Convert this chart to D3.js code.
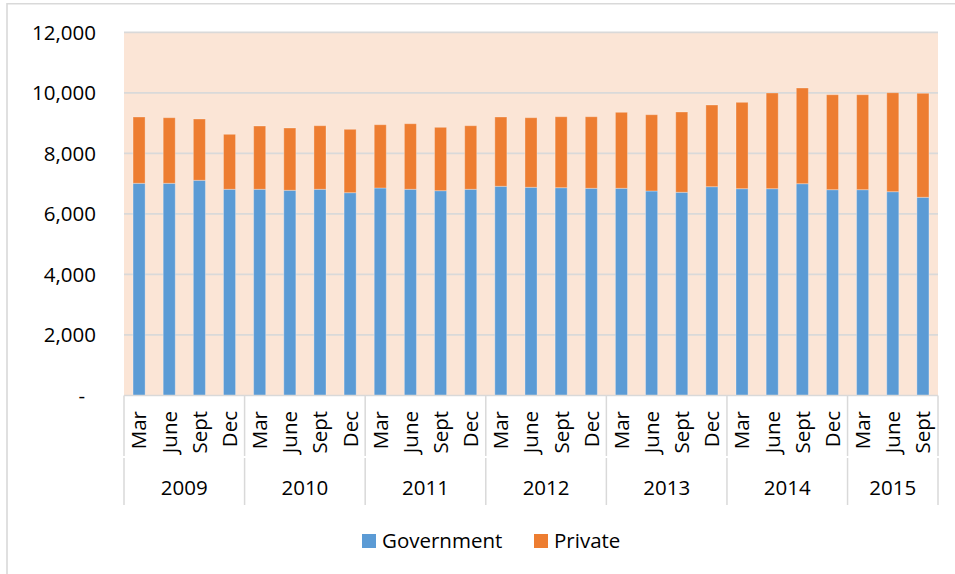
<!DOCTYPE html>
<html>
<head>
<meta charset="utf-8">
<script src="https://cdn.jsdelivr.net/npm/d3@7"></script>
<style>
  html, body { margin: 0; padding: 0; background: #fff; }
  svg { display: block; font-family: "Open Sans", sans-serif; }
</style>
</head>
<body>
<svg id="chart" width="955" height="574"></svg>
<script>
const years = ["2009", "2010", "2011", "2012", "2013", "2014", "2015"];
const months = ["Mar", "June", "Sept", "Dec"];
const quarterCounts = [4, 4, 4, 4, 4, 4, 3];
const government = [7011, 7011, 7110, 6813, 6813, 6780, 6813, 6701, 6856, 6813, 6767, 6813, 6912, 6879, 6866, 6846, 6846, 6757, 6714, 6899, 6833, 6833, 6998, 6800, 6800, 6734, 6549];
const privateVals = [2191, 2168, 2026, 1817, 2091, 2058, 2101, 2094, 2091, 2167, 2094, 2101, 2290, 2300, 2345, 2365, 2511, 2521, 2653, 2699, 2854, 3162, 3162, 3138, 3138, 3271, 3436];
const yTicks = [0, 2000, 4000, 6000, 8000, 10000, 12000];
const seriesNames = ["Government", "Private"];
const colors = ["#5B9BD5", "#ED7D31"];

(function () {
const cats = [];
years.forEach((yr, i) => {
  for (let q = 0; q < quarterCounts[i]; q++) cats.push({ key: yr + "-" + months[q], year: yr, month: months[q] });
});
const rows = cats.map((c, i) => ({ key: c.key, Government: government[i], Private: privateVals[i] }));

const svg = d3.select("#chart");
const pLeft = 124, pRight = 938, pTop = 32.3, pBottom = 395.5;

const x = d3.scaleBand().domain(cats.map(c => c.key)).range([pLeft, pRight]).paddingInner(0.6).paddingOuter(0.3);
const y = d3.scaleLinear().domain([0, 12000]).range([pBottom, pTop]);

svg.append("path").attr("d", `M7,580 V3.8 H960`).attr("fill", "none").attr("stroke", "#d9d9d9").attr("stroke-width", 1.6);

svg.append("rect").attr("x", pLeft).attr("y", pTop).attr("width", pRight - pLeft).attr("height", pBottom - pTop).attr("fill", "#FBE5D6");

svg.append("g").selectAll("line").data(yTicks.filter(t => t > 0)).join("line")
  .attr("x1", pLeft).attr("x2", pRight)
  .attr("y1", d => y(d)).attr("y2", d => y(d))
  .attr("stroke", "#d9d9d9").attr("stroke-width", 1.8);

const fmt = d3.format(",");
svg.append("g").selectAll("text").data(yTicks).join("text")
  .attr("x", d => d === 0 ? 85 : 96)
  .attr("y", d => y(d))
  .attr("dy", "0.36em")
  .attr("text-anchor", "end")
  .attr("font-size", 20.5)
  .attr("fill", "#000")
  .text(d => d === 0 ? "-" : fmt(d));

const stack = d3.stack().keys(seriesNames)(rows);
svg.append("g").selectAll("g").data(stack).join("g")
  .attr("fill", (d, i) => colors[i])
  .selectAll("rect").data(d => d).join("rect")
  .attr("x", d => x(d.data.key))
  .attr("width", x.bandwidth())
  .attr("y", d => y(d[1]))
  .attr("height", d => y(d[0]) - y(d[1]))
  .attr("stroke", "rgba(255,255,255,0.3)")
  .attr("stroke-width", 1);

svg.append("line").attr("x1", pLeft).attr("x2", pRight).attr("y1", pBottom).attr("y2", pBottom)
  .attr("stroke", "#d9d9d9").attr("stroke-width", 1.5);

const boundaries = [0];
quarterCounts.reduce((acc, n) => { boundaries.push(acc + n); return acc + n; }, 0);
const bx = i => pLeft + (pRight - pLeft) * i / cats.length;
const sep = svg.append("g").attr("stroke", "#d9d9d9").attr("stroke-width", 1.5);
boundaries.forEach(b => {
  sep.append("line").attr("x1", bx(b)).attr("x2", bx(b)).attr("y1", pBottom).attr("y2", 456);
  sep.append("line").attr("x1", bx(b)).attr("x2", bx(b)).attr("y1", 458).attr("y2", 505);
});

svg.append("g").selectAll("text").data(cats).join("text")
  .attr("transform", d => `translate(${x(d.key) + x.bandwidth() / 2},411) rotate(-90)`)
  .attr("dy", "0.36em")
  .attr("text-anchor", "end")
  .attr("font-size", 20.5)
  .attr("fill", "#000")
  .text(d => d.month);

svg.append("g").selectAll("text").data(years).join("text")
  .attr("x", (d, i) => (bx(boundaries[i]) + bx(boundaries[i + 1])) / 2)
  .attr("y", 495)
  .attr("text-anchor", "middle")
  .attr("font-size", 20.5)
  .attr("fill", "#000")
  .text(d => d);

const legendItems = [{ name: seriesNames[0], c: colors[0], x: 362 }, { name: seriesNames[1], c: colors[1], x: 534 }];
const lg = svg.append("g");
legendItems.forEach(it => {
  lg.append("rect").attr("x", it.x).attr("y", 534).attr("width", 14).attr("height", 14).attr("fill", it.c);
  lg.append("text").attr("x", it.x + 20).attr("y", 548).attr("font-size", 20.5).attr("fill", "#000").text(it.name);
});
})();
</script>
</body>
</html>
